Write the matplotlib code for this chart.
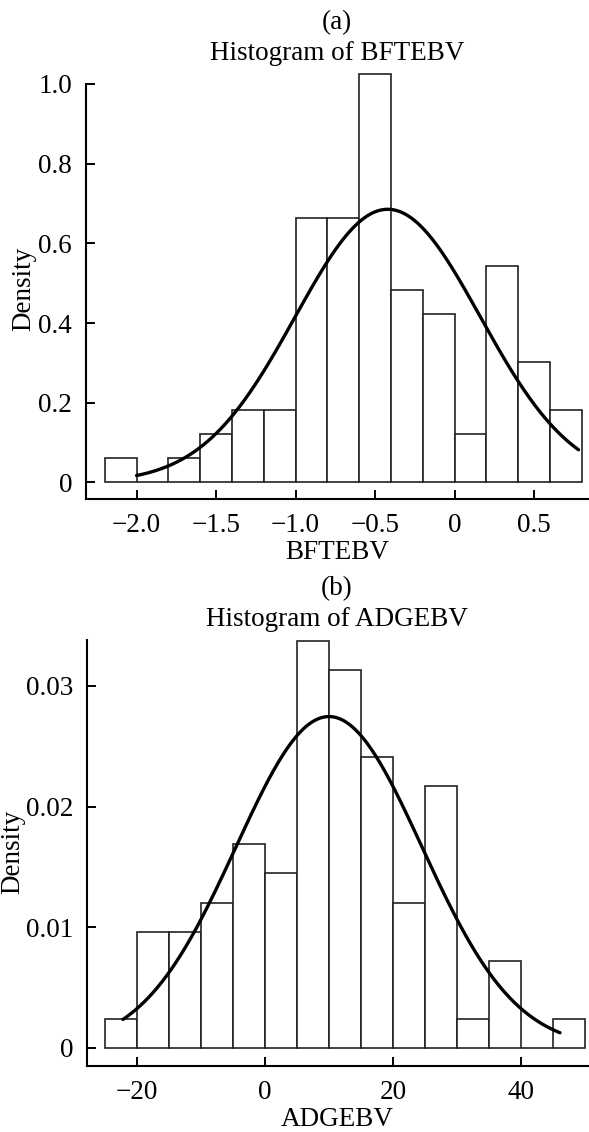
import numpy as np
import matplotlib
matplotlib.use("Agg")
import matplotlib.pyplot as plt

# ---------------- data ----------------
# Panel (a): BFTEBV
bft_edges = [-2.2, -2.0, -1.8, -1.6, -1.4, -1.2, -1.0, -0.8, -0.6, -0.4, -0.2, 0.0, 0.2, 0.4, 0.6, 0.8]
bft_counts = [1, 0, 1, 2, 3, 3, 11, 11, 17, 8, 7, 2, 9, 5, 3]
bft_mean, bft_sd = -0.42, 0.582
bft_curve_range = (-2.0, 0.78)
bft_yticks = [0, 0.2, 0.4, 0.6, 0.8, 1.0]
bft_yticklabels = ["0", "0.2", "0.4", "0.6", "0.8", "1.0"]
bft_xticks = [-2.0, -1.5, -1.0, -0.5, 0, 0.5]
bft_xticklabels = ["\u22122.0", "\u22121.5", "\u22121.0", "\u22120.5", "0", "0.5"]

# Panel (b): ADGEBV
adg_edges = [-25, -20, -15, -10, -5, 0, 5, 10, 15, 20, 25, 30, 35, 40, 45, 50]
adg_counts = [1, 4, 4, 5, 7, 6, 14, 13, 10, 5, 9, 1, 3, 0, 1]
adg_mean, adg_sd = 10.0, 14.53
adg_curve_range = (-22.2, 46.1)
adg_yticks = [0, 0.01, 0.02, 0.03]
adg_yticklabels = ["0", "0.01", "0.02", "0.03"]
adg_xticks = [-20, 0, 20, 40]
adg_xticklabels = ["\u221220", "0", "20", "40"]

# ---------------- style ----------------
plt.rcParams['font.family'] = ['Liberation Serif', 'DejaVu Serif']
FS = 19.5
W, H = 589, 1132
fig = plt.figure(figsize=(W / 100, H / 100), dpi=100)


def panel(ax, edges, counts, mean, sd, crange, xlim, ylim, xticks, xtl, yticks, ytl,
          ybound_top=None):
    edges = np.asarray(edges, float)
    counts = np.asarray(counts, float)
    centers = (edges[:-1] + edges[1:]) / 2
    ax.hist(centers, bins=edges, weights=counts, density=True,
            facecolor="white", edgecolor="#222222", linewidth=1.2)
    xs = np.linspace(crange[0], crange[1], 300)
    ys = np.exp(-0.5 * ((xs - mean) / sd) ** 2) / (sd * np.sqrt(2 * np.pi))
    ax.plot(xs, ys, color="black", linewidth=2.4, solid_capstyle="round")
    ax.set_xlim(*xlim)
    ax.set_ylim(*ylim)
    for s in ("top", "right"):
        ax.spines[s].set_visible(False)
    for s in ("left", "bottom"):
        ax.spines[s].set_linewidth(1.5)
    if ybound_top is not None:
        ax.spines["left"].set_bounds(ylim[0], ybound_top)
    ax.set_xticks(xticks)
    ax.set_xticklabels(xtl)
    ax.set_yticks(yticks)
    ax.set_yticklabels(ytl)
    ax.tick_params(direction="in", length=6.5, width=1.4, labelsize=FS)
    ax.tick_params(axis="x", pad=10)
    ax.tick_params(axis="y", pad=10)
    ax.patch.set_alpha(0)


def fx(px):
    return px / W


def fy(py):
    return 1 - py / H


# Panel (a)
ax1 = fig.add_axes([fx(86), fy(499), 1 - fx(86), (499 - 72) / H])
panel(ax1, bft_edges, bft_counts, bft_mean, bft_sd, bft_curve_range,
      (-2.318, 0.846), (-0.0417, 1.03), bft_xticks, bft_xticklabels,
      bft_yticks, bft_yticklabels, ybound_top=1.0)

# Panel (b)
ax2 = fig.add_axes([fx(87), fy(1066), 1 - fx(87), (1066 - 640) / H])
panel(ax2, adg_edges, adg_counts, adg_mean, adg_sd, adg_curve_range,
      (-27.81, 50.63), (-0.0015, 0.0338), adg_xticks, adg_xticklabels,
      adg_yticks, adg_yticklabels)

# Titles and labels
cx = fx(337)
fig.text(cx, fy(23), "(a)", ha="center", va="center", fontsize=FS)
fig.text(cx, fy(53), "Histogram of BFTEBV", ha="center", va="center", fontsize=FS)
fig.text(cx, fy(553), "BFTEBV", ha="center", va="center", fontsize=FS)
fig.text(fx(24), fy(289), "Density", ha="center", va="center", rotation=90, fontsize=FS)

fig.text(cx, fy(589), "(b)", ha="center", va="center", fontsize=FS)
fig.text(cx, fy(619), "Histogram of ADGEBV", ha="center", va="center", fontsize=FS)
fig.text(cx, fy(1119), "ADGEBV", ha="center", va="center", fontsize=FS)
fig.text(fx(13), fy(852), "Density", ha="center", va="center", rotation=90, fontsize=FS)

fig.savefig("out.png", dpi=100, facecolor="white")
